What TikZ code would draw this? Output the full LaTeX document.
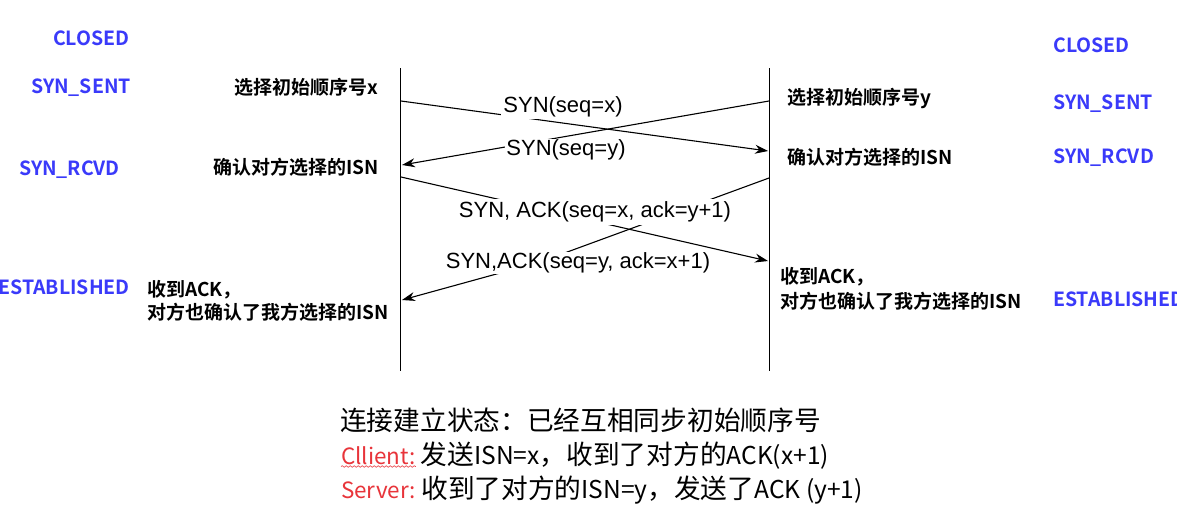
\documentclass[tikz,border=0pt]{standalone}
\usepackage{fontspec}
\setmainfont{Liberation Sans}
\newfontfamily\cjkr{Noto Sans CJK SC}
\newfontfamily\cjkrl{Noto Sans CJK SC}[Scale=0.84]
\newfontfamily\cjkrm{Noto Sans CJK SC}[Scale=0.92]
\newfontfamily\cjkb{Noto Sans CJK SC Bold}
\usetikzlibrary{arrows.meta,decorations.pathmorphing}
\definecolor{stblue}{RGB}{58,58,250}
\definecolor{cred}{RGB}{232,52,58}
\begin{document}
\begin{tikzpicture}[x=1pt,y=-1pt,
  state/.style={font=\cjkb\fontsize{19.5}{23}\selectfont, text=stblue, inner sep=0pt},
  note/.style={font=\cjkb\fontsize{19}{23}\selectfont, inner sep=0pt, align=left},
  msg/.style={font=\fontsize{22}{26}\selectfont, fill=white, inner sep=1pt},
  lifeline/.style={line width=1.3pt},
  arr/.style={line width=1.1pt, -{Stealth[length=13pt,width=9pt]}},
  body/.style={font=\cjkr\fontsize{26.7}{34}\selectfont, inner sep=0pt}]
\useasboundingbox[fill=white] (0,0) rectangle (1177,517);

% lifelines
\coordinate (Lt) at (400.5,68); \coordinate (Lb) at (400.5,371);
\coordinate (Rt) at (769.5,68); \coordinate (Rb) at (769.5,371);
\draw[lifeline] (Lt) -- (Lb);
\draw[lifeline] (Rt) -- (Rb);

% message end points
\coordinate (s1) at (401,101); \coordinate (e1) at (768,151);
\coordinate (s2) at (769,101); \coordinate (e2) at (402,165);
\coordinate (s3) at (401,177); \coordinate (e3) at (768,261);
\coordinate (s4) at (769,178); \coordinate (w4) at (540,262); \coordinate (e4) at (402,300);

\draw[arr] (s1) -- (e1);
\draw[arr] (s2) -- (e2);
\draw[arr] (s3) -- (e3);
\draw[arr] (s4) -- (w4) -- (e4);

\node[msg, inner sep=2pt] (m1) at (563,107) {SYN(seq=x)};
\node[msg] (m2) at (566,150) {SYN(seq=y)};
\node[msg, inner sep=3pt] (m3) at (595,212) {SYN, ACK(seq=x, ack=y+1)};
\node[msg] (m4) at (578,263) {SYN,ACK(seq=y, ack=x+1)};

% states left
\node[state, anchor=base west] (lc) at (53,45) {CLOSED};
\node[state, anchor=base west] (ls) at (31,93) {SYN\_SENT};
\node[state, anchor=base west] (lr) at (19,175) {SYN\_RCVD};
\node[state, anchor=base east] (le) at (130,294) {ESTABLISHED};
% states right
\node[state, anchor=base west] (rc) at (1053,52) {CLOSED};
\node[state, anchor=base west] (rs) at (1053,109) {SYN\_SENT};
\node[state, anchor=base west] (rr) at (1053,163) {SYN\_RCVD};
\node[state, anchor=base west] (re) at (1053,306) {ESTABLISHED};

% notes left
\node[note, anchor=base east] (ln1) at (378,94) {选择初始顺序号x};
\node[note, anchor=base east] (ln2) at (379,174) {确认对方选择的ISN};
\node[note, anchor=west] (ln3) at (147,300.5) {收到ACK，\\对方也确认了我方选择的ISN};
% notes right
\node[note, anchor=base west] (rn1) at (787,104) {选择初始顺序号y};
\node[note, anchor=base west] (rn2) at (787,164) {确认对方选择的ISN};
\node[note, anchor=west, font=\cjkb\fontsize{19}{25}\selectfont] (rn3) at (780,288.5) {收到ACK，\\对方也确认了我方选择的ISN};

% bottom text
\node[body, anchor=base west] (b1) at (340,430) {连接建立状态：已经互相同步初始顺序号};
\node[body, anchor=base west, text=cred] (c2) at (341,464) {\cjkrl Cllient:};
\node[body, anchor=base west] (b2) at ([xshift=5pt]c2.base east) {发送{\cjkrm ISN=x}，收到了对方的{\cjkrm ACK(x+1)}};
\node[body, anchor=base west, text=cred] (c3) at (341,498) {\cjkrl Server:};
\node[body, anchor=base west] (b3) at ([xshift=5pt]c3.base east) {收到了对方的{\cjkrm ISN=y}，发送了{\cjkrm ACK (y+1)}};
\draw[cred, line width=0.6pt, decorate, decoration={snake, amplitude=0.8pt, segment length=4pt}]
  ([yshift=-2pt]c2.south west) -- ([yshift=-2pt]c2.south east);
\end{tikzpicture}
\end{document}
